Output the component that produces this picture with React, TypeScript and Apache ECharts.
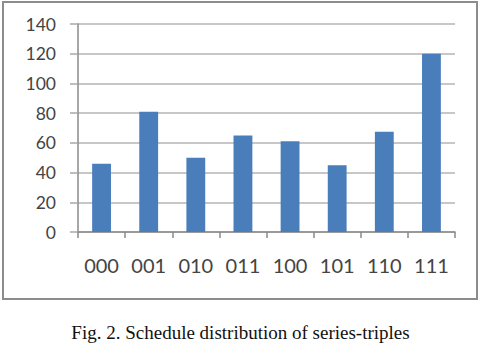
import React, { useEffect, useRef } from "react";
import * as echarts from "echarts";

const categories = ["000", "001", "010", "011", "100", "101", "110", "111"];
const values = [46, 81, 50, 65, 61, 45, 67.5, 120];
const yTicks = { min: 0, max: 140, interval: 20 };
const caption = "Fig. 2. Schedule distribution of series-triples";

export default function App() {
  const ref = useRef<HTMLDivElement>(null);
  useEffect(() => {
    document.body.style.margin = "0";
    const chart = echarts.init(ref.current!, undefined, { renderer: "svg" });
    chart.setOption({
      animation: false,
      backgroundColor: "#ffffff",
      grid: { left: 78, right: 26, top: 24, bottom: 113, containLabel: false },
      xAxis: {
        type: "category",
        data: categories,
        axisLine: { show: true, lineStyle: { color: "#8a8a8a", width: 1.5 } },
        axisTick: { show: true, length: 6, lineStyle: { color: "#8a8a8a", width: 1.5 } },
        axisLabel: { margin: 23, fontFamily: "Lato", fontSize: 20, color: "#444444" },
      },
      yAxis: {
        type: "value",
        min: yTicks.min,
        max: yTicks.max,
        interval: yTicks.interval,
        axisLine: { show: true, lineStyle: { color: "#8a8a8a", width: 1.5 } },
        axisTick: { show: true, length: 8, lineStyle: { color: "#a8a8a8", width: 1.5 } },
        splitLine: { show: true, lineStyle: { color: "#b4b4b4", width: 1.5 } },
        axisLabel: { margin: 22, fontFamily: "Lato", fontSize: 17.5, color: "#444444" },
      },
      series: [
        {
          type: "bar",
          data: values,
          barWidth: "40%",
          itemStyle: { color: "#4a7ebb" },
        },
      ],
      graphic: [
        {
          type: "rect",
          shape: { x: 3, y: 2, width: 474, height: 297 },
          style: { fill: "none", stroke: "#8c8c8c", lineWidth: 2 },
          silent: true,
        },
        {
          type: "text",
          left: "center",
          top: 323,
          style: {
            text: caption,
            fontFamily: "Liberation Serif",
            fontSize: 19,
            fill: "#111111",
          },
        },
      ],
    });
    return () => chart.dispose();
  }, []);
  return (
    <div
      ref={ref}
      style={{ position: "absolute", left: 0, top: 0, width: 481, height: 345 }}
    />
  );
}
